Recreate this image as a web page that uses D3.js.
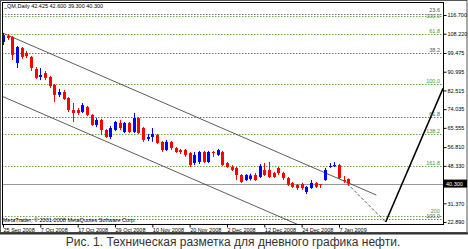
<!DOCTYPE html>
<html>
<head>
<meta charset="utf-8">
<script src="https://cdn.jsdelivr.net/npm/d3@7"></script>
<style>
body { margin: 0; background: #fff; }
text { font-family: "Liberation Sans", Arial, sans-serif; }
</style>
</head>
<body>
<script>
// bar index of each date label (daily bars)
const dateIdx = [0, 8, 16, 24, 32, 40, 48, 56, 64, 72];
const dateLabels = ["25 Sep 2008", "7 Oct 2008", "17 Oct 2008", "29 Oct 2008", "10 Nov 2008",
  "20 Nov 2008", "2 Dec 2008", "12 Dec 2008", "24 Dec 2008", "7 Jan 2009"];

const opens = [104.5, 107.2, 106.7, 95.0, 101.8, 99.5, 97.7, 92.2, 88.6, 90.4,
  88.6, 85.0, 80.5, 81.8, 79.1, 73.6, 73.6, 72.7, 75.0, 71.4,
  66.9, 69.1, 64.6, 61.4, 64.6, 67.8, 63.7, 67.8, 63.7, 70.0,
  65.5, 60.5, 61.4, 62.3, 59.2, 55.5, 59.2, 56.4, 55.5, 55.5,
  54.2, 49.6, 50.1, 54.6, 50.1, 54.6, 53.3, 54.6, 49.6, 47.8,
  47.4, 44.2, 41.9, 42.4, 44.2, 43.3, 46.5, 46.5, 45.1, 47.4,
  45.1, 42.8, 40.6, 39.7, 40.1, 36.5, 38.3, 40.6, 40.1, 41.9,
  47.8, 48.3, 48.7, 41.9, 42.425];
const highs = [108.5, 108.1, 107.2, 102.7, 102.2, 100.4, 98.1, 93.1, 92.7, 91.3,
  89.1, 85.4, 83.2, 82.7, 79.5, 76.8, 74.6, 76.8, 75.5, 71.8,
  70.0, 69.6, 65.0, 66.4, 68.7, 69.1, 68.2, 68.2, 72.3, 70.5,
  65.9, 62.8, 65.5, 62.8, 59.6, 60.1, 59.6, 56.9, 56.0, 56.0,
  54.6, 54.6, 55.1, 55.1, 55.1, 55.1, 56.0, 55.1, 50.1, 48.7,
  47.8, 44.6, 44.6, 44.8, 45.1, 49.2, 49.6, 50.1, 45.6, 47.8,
  45.6, 43.3, 41.0, 40.1, 40.6, 39.2, 41.9, 41.0, 40.1, 47.4,
  49.6, 50.1, 49.2, 43.7, 42.6];
const lows = [103.1, 105.4, 96.3, 92.7, 96.8, 97.2, 91.3, 87.7, 87.2, 87.2,
  83.6, 77.3, 79.5, 78.2, 72.7, 68.2, 71.4, 72.3, 70.9, 66.4,
  65.9, 62.3, 61.0, 60.5, 64.1, 64.6, 63.2, 63.2, 63.2, 62.8,
  59.2, 59.6, 59.2, 58.2, 54.6, 55.1, 55.5, 54.2, 53.7, 52.4,
  47.8, 48.7, 49.2, 49.6, 49.6, 52.4, 52.8, 48.3, 47.4, 46.0,
  41.9, 40.6, 41.5, 41.7, 41.5, 42.8, 43.7, 42.8, 42.8, 44.2,
  41.9, 39.2, 38.3, 37.4, 37.4, 35.6, 37.9, 38.3, 38.3, 41.5,
  47.4, 47.8, 42.4, 40.6, 39.3];
const closes = [107.6, 106.3, 98.6, 102.2, 97.7, 98.1, 92.7, 88.2, 89.5, 88.2,
  84.5, 80.5, 81.8, 78.6, 73.6, 72.3, 72.3, 75.9, 71.4, 66.9,
  69.1, 64.6, 61.4, 65.5, 68.2, 65.5, 67.8, 63.7, 70.0, 63.2,
  60.1, 61.4, 62.8, 58.7, 55.5, 59.2, 56.4, 54.6, 54.6, 53.3,
  48.7, 53.3, 54.6, 50.1, 54.6, 54.2, 55.5, 48.7, 47.8, 46.5,
  44.2, 41.0, 44.2, 44.0, 41.9, 48.3, 44.2, 43.3, 43.3, 45.1,
  42.8, 39.7, 38.8, 38.3, 38.3, 38.8, 40.6, 38.8, 39.7, 46.5,
  48.3, 48.7, 42.8, 41.5, 40.3];

const priceTicks = [116.7, 108.22, 99.475, 90.995, 82.515, 74.035, 65.555, 56.81, 48.33, 31.37, 22.89];
const lastPrice = 40.3;
const headerText = "_QM,Daily 42.425 42.600 39.300 40.300";

// fibonacci levels: label, price
const grayFibLabels = ["23.6", "38.2", "61.8", "100.0"];
const grayFibPrices = [117.2, 99.4, 70.6, 24.25];
const greenFibLabels = ["100.0", "61.8", "100.0", "138.2", "161.8", "200"];
const greenFibPrices = [116.3, 108.2, 85.4, 62.6, 48.4, 25.6];

// drawn trend lines: [bar index, price]
const channelUpper = [[-1, 109.4], [80, 35.1]];
const channelLower = [[-1, 80.6], [80, 6.3]];
const projDashed = [[73, 41.9], [82, 22.9]];
const projThick = [[82, 22.9], [94.3, 83.5]];

const width = 468, height = 249;
const plotL = 2, plotR = 443, plotT = 2, plotB = 224;

const svg = d3.select("body").append("svg").attr("width", width).attr("height", height);

const xScale = d3.scaleLinear().domain([0, 72]).range([3, 339]);
const yScale = d3.scaleLinear().domain([22.89, 116.7]).range([222, 15]);

svg.append("clipPath").attr("id", "plot")
  .append("rect").attr("x", plotL).attr("y", plotT).attr("width", plotR - plotL).attr("height", plotB - plotT);

// outer window frame
svg.append("rect").attr("x", 0.5).attr("y", 0.5).attr("width", 466.5).attr("height", 232)
  .attr("fill", "#fff").attr("stroke", "#555");
svg.append("line").attr("x1", 0).attr("x2", 468).attr("y1", 233.5).attr("y2", 233.5)
  .attr("stroke", "#333").attr("stroke-width", 2);

const plot = svg.append("g").attr("clip-path", "url(#plot)");

// fib levels (50% gray sits under the green 100 line)
const fibLine = (prices, color) => plot.selectAll(null).data(prices).enter().append("line")
  .attr("x1", plotL).attr("x2", plotR)
  .attr("y1", d => Math.round(yScale(d)) + 0.5).attr("y2", d => Math.round(yScale(d)) + 0.5)
  .attr("stroke", color).attr("stroke-dasharray", "1.5,1.5");
fibLine(grayFibPrices, "#777");
fibLine(greenFibPrices, "#6aab4a");

// bid line
plot.append("line").attr("x1", plotL).attr("x2", plotR)
  .attr("y1", Math.round(yScale(lastPrice)) + 0.5).attr("y2", Math.round(yScale(lastPrice)) + 0.5)
  .attr("stroke", "#999");

// trend lines
const line = d3.line().x(d => xScale(d[0])).y(d => yScale(d[1]));
plot.append("path").attr("d", line(channelUpper)).attr("fill", "none").attr("stroke", "#333").attr("stroke-width", 0.8);
plot.append("path").attr("d", line(channelLower)).attr("fill", "none").attr("stroke", "#333").attr("stroke-width", 0.8);
plot.append("path").attr("d", line(projDashed)).attr("fill", "none").attr("stroke", "#555").attr("stroke-dasharray", "3,2");
plot.append("path").attr("d", line(projThick)).attr("fill", "none").attr("stroke", "#000").attr("stroke-width", 1.6);

// candles
const bars = opens.map((o, i) => ({ i, o, h: highs[i], l: lows[i], c: closes[i] }));
const colorOf = d => d.c >= d.o ? "#0000ff" : "#ff0000";
const candle = plot.selectAll(".candle").data(bars).enter().append("g").attr("class", "candle");
candle.append("line")
  .attr("x1", d => Math.round(xScale(d.i)) + 0.5).attr("x2", d => Math.round(xScale(d.i)) + 0.5)
  .attr("y1", d => yScale(d.h)).attr("y2", d => yScale(d.l))
  .attr("stroke", colorOf);
candle.append("rect")
  .attr("x", d => Math.round(xScale(d.i)) - 1)
  .attr("y", d => yScale(Math.max(d.o, d.c)))
  .attr("width", 3)
  .attr("height", d => Math.max(1, Math.abs(yScale(d.o) - yScale(d.c))))
  .attr("fill", colorOf);

// fib labels; the close pairs at top and bottom are pushed apart a little
const fibText = (labels, prices, color, nudge) => plot.selectAll(null).data(prices).enter().append("text")
  .attr("x", plotR - 3).attr("y", (d, i) => yScale(d) - 1 + (nudge[i] || 0))
  .attr("text-anchor", "end").attr("font-size", 5.5).attr("fill", color)
  .text((d, i) => labels[i]);
fibText(grayFibLabels, grayFibPrices, "#555", [-1, 0, 0, 0.5]);
fibText(greenFibLabels, greenFibPrices, "#4d9a2e", [3, 0, 0, 0, 0, -2]);

// plot frame
svg.append("rect").attr("x", plotL + 0.5).attr("y", plotT + 0.5)
  .attr("width", plotR - plotL).attr("height", plotB - plotT)
  .attr("fill", "none").attr("stroke", "#000");

// right price axis
const axisY = d3.axisRight(yScale).tickValues(priceTicks).tickSize(3)
  .tickFormat(d3.format(".3f"));
const gy = svg.append("g").attr("transform", "translate(" + (plotR + 0.5) + ",0)").call(axisY);
gy.select(".domain").remove();
gy.selectAll("text").attr("font-size", 5.5).attr("x", 4).attr("font-family", "Liberation Sans");

// current price box
svg.append("rect").attr("x", 444).attr("y", yScale(lastPrice) - 4).attr("width", 23).attr("height", 8).attr("fill", "#000");
svg.append("text").attr("x", 446).attr("y", yScale(lastPrice) + 2).attr("fill", "#fff")
  .attr("font-size", 5.5).text(d3.format(".3f")(lastPrice));

// bottom date axis
const axisX = d3.axisBottom(xScale).tickValues(dateIdx).tickSize(3)
  .tickFormat((d, i) => dateLabels[i]);
const gx = svg.append("g").attr("transform", "translate(0," + (plotB + 0.5) + ")").call(axisX);
gx.select(".domain").remove();
gx.selectAll("text").attr("font-size", 5.5).attr("text-anchor", "start").attr("x", 0).attr("dy", "0.3em")
  .attr("font-family", "Liberation Sans");

// header and copyright
svg.append("text").attr("x", 4).attr("y", 8).attr("font-size", 5.5).attr("fill", "#000").text(headerText);
svg.append("text").attr("x", 3).attr("y", 222).attr("font-size", 5.5).attr("fill", "#000")
  .text("MetaTrader, © 2001-2008 MetaQuotes Software Corp.");

// caption
svg.append("text").attr("x", 233).attr("y", 246).attr("text-anchor", "middle")
  .attr("font-size", 12).attr("fill", "#333")
  .text("Рис. 1. Техническая разметка для дневного графика нефти.");
</script>
</body>
</html>
